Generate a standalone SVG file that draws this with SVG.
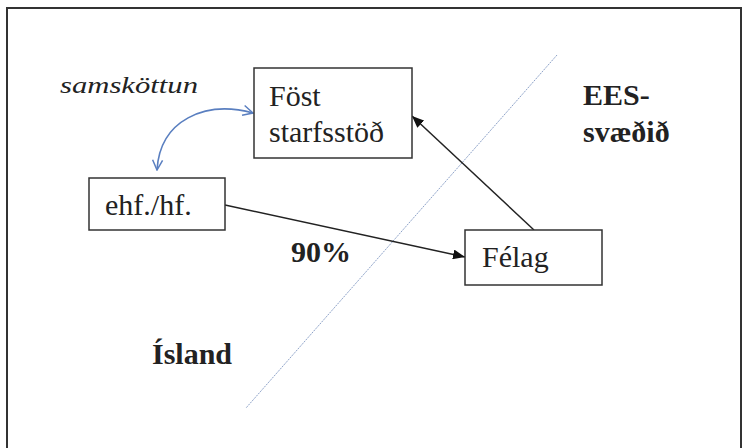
<svg xmlns="http://www.w3.org/2000/svg" width="744" height="448" viewBox="0 0 744 448">
<style>
.box{fill:#fff;stroke:#333;stroke-width:1.5}
text{font-family:'Liberation Serif','DejaVu Serif',serif;fill:#222}
.t{font-size:30px}
.b{font-weight:bold}
.conn{fill:none;stroke:#222;stroke-width:1.5}
.blue{fill:none;stroke:#5a7fc0;stroke-width:1.6}
</style>
<defs>
<marker id="ah" viewBox="0 0 12 10" refX="12" refY="5" markerWidth="12" markerHeight="10" markerUnits="userSpaceOnUse" orient="auto">
<path d="M0,0 L12,5 L0,10 Z" fill="#111"/>
</marker>
<marker id="bh" viewBox="0 0 12 12" refX="11" refY="6" markerWidth="12" markerHeight="12" markerUnits="userSpaceOnUse" orient="auto-start-reverse">
<path d="M1,1 L11,6 L1,11" fill="none" stroke="#5a7fc0" stroke-width="1.5"/>
</marker>
</defs>
<rect width="744" height="448" fill="#fff"/>
<path d="M7,448 V8 H741 V448" fill="none" stroke="#333" stroke-width="2"/>
<line x1="557" y1="55" x2="246" y2="408" stroke="#8ea3c9" stroke-width="1" stroke-dasharray="2 1"/>
<g id="connectors">
<path class="conn" d="M225,205 L465,257" marker-end="url(#ah)"/>
<path class="conn" d="M534,230 L412,116" marker-end="url(#ah)"/>
<path class="blue" d="M157,170 C160,120 205,100 253,113" marker-start="url(#bh)" marker-end="url(#bh)"/>
</g>
<g id="foest">
<rect class="box" x="254" y="68" width="158" height="90"/>
<text class="t" x="269" y="106" font-family="Liberation Serif">Föst</text>
<text class="t" x="269" y="142" font-family="Liberation Serif">starfsstöð</text>
</g>
<g id="ehf">
<rect class="box" x="89" y="178" width="136" height="52"/>
<text class="t" x="105" y="215" font-family="Liberation Serif">ehf./hf.</text>
</g>
<g id="felag">
<rect class="box" x="465" y="230" width="137" height="55"/>
<text class="t" x="482" y="267" font-family="Liberation Serif">Félag</text>
</g>
<g id="labels">
<text x="60" y="93" font-family="DejaVu Serif" font-style="italic" font-size="24" fill="#333" textLength="138" lengthAdjust="spacingAndGlyphs">samsköttun</text>
<text class="t b" x="291" y="262" font-family="Liberation Serif">90%</text>
<text class="t b" x="152" y="364" font-family="Liberation Serif">Ísland</text>
<text class="t b" x="583" y="105" font-family="Liberation Serif">EES-</text>
<text class="t b" x="583" y="142" font-family="Liberation Serif">svæðið</text>
</g>
</svg>
